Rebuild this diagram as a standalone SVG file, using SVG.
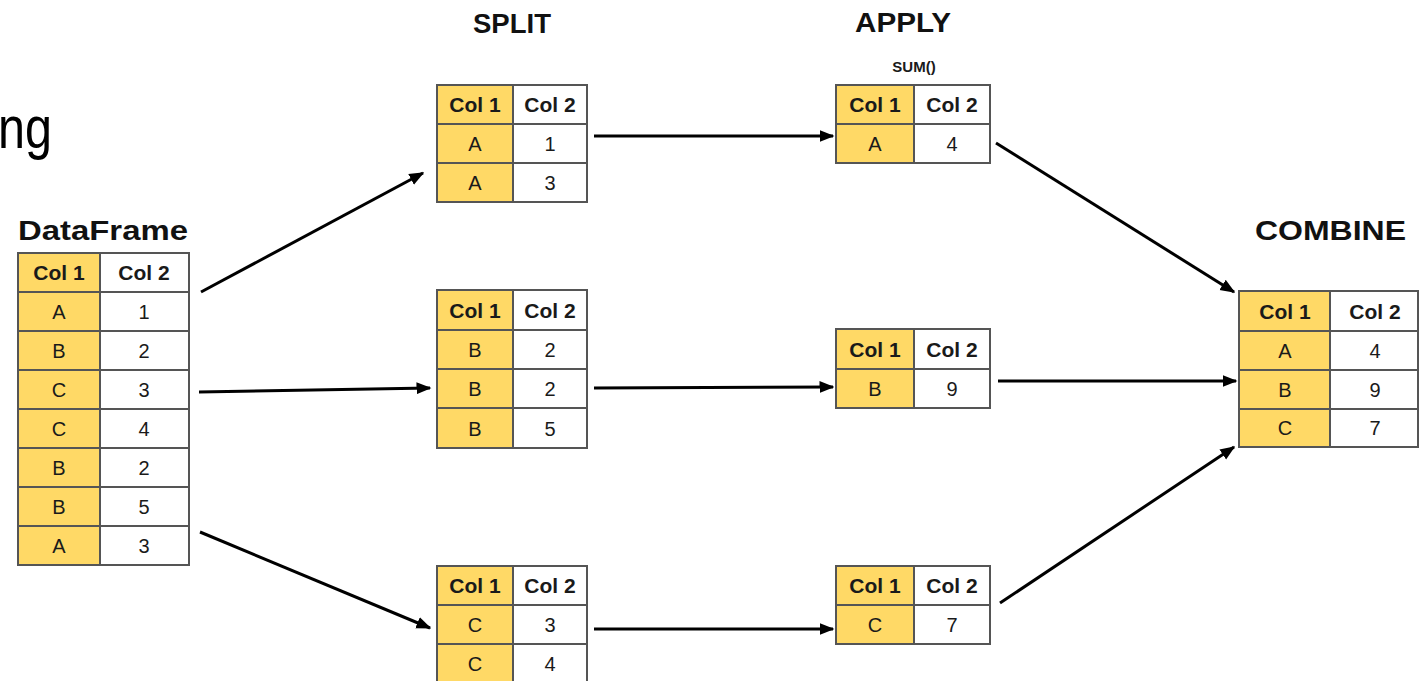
<svg xmlns="http://www.w3.org/2000/svg" width="1419" height="681" viewBox="0 0 1419 681">
  <style>
    .k { fill: #FFD966; stroke: #555; stroke-width: 2; }
    .v { fill: #FFFFFF; stroke: #555; stroke-width: 2; }
    .h { font-family: "Liberation Sans", Arial, sans-serif; font-weight: bold; font-size: 21px; fill: #1a1a1a; text-anchor: middle; }
    .d { font-family: "Liberation Sans", Arial, sans-serif; font-size: 20px; fill: #1a1a1a; text-anchor: middle; }
    .title { font-family: "Liberation Sans", Arial, sans-serif; font-weight: bold; font-size: 27px; fill: #111; }
    .arrow { stroke: #000; stroke-width: 3; fill: none; marker-end: url(#head); }
  </style>
  <defs>
    <marker id="head" viewBox="0 0 10 10" refX="9" refY="5" markerWidth="5" markerHeight="5" orient="auto" markerUnits="strokeWidth">
      <path d="M0,1 L10,5 L0,9 z" fill="#000"/>
    </marker>
  </defs>
  <rect width="1419" height="681" fill="#fff"/>

  <!-- partial heading on the left edge -->
  <text x="-2" y="148" font-family="Liberation Sans, Arial, sans-serif" font-size="60" fill="#000" textLength="54" lengthAdjust="spacingAndGlyphs">ng</text>

  <!-- stage titles -->
  <text class="title" x="18" y="240" textLength="170" lengthAdjust="spacingAndGlyphs">DataFrame</text>
  <text class="title" x="473" y="33" textLength="78" lengthAdjust="spacingAndGlyphs">SPLIT</text>
  <text class="title" x="855" y="32" textLength="96" lengthAdjust="spacingAndGlyphs">APPLY</text>
  <text x="914" y="72" font-family="Liberation Sans, Arial, sans-serif" font-weight="bold" font-size="15" fill="#1a1a1a" text-anchor="middle">SUM()</text>
  <text class="title" x="1255" y="240" textLength="151" lengthAdjust="spacingAndGlyphs">COMBINE</text>

  <!-- source DataFrame -->
  <g id="dataframe">
    <rect class="k" x="18" y="253" width="82" height="39"/><rect class="v" x="100" y="253" width="89" height="39"/>
    <rect class="k" x="18" y="292" width="82" height="39"/><rect class="v" x="100" y="292" width="89" height="39"/>
    <rect class="k" x="18" y="331" width="82" height="39"/><rect class="v" x="100" y="331" width="89" height="39"/>
    <rect class="k" x="18" y="370" width="82" height="39"/><rect class="v" x="100" y="370" width="89" height="39"/>
    <rect class="k" x="18" y="409" width="82" height="39"/><rect class="v" x="100" y="409" width="89" height="39"/>
    <rect class="k" x="18" y="448" width="82" height="39"/><rect class="v" x="100" y="448" width="89" height="39"/>
    <rect class="k" x="18" y="487" width="82" height="39"/><rect class="v" x="100" y="487" width="89" height="39"/>
    <rect class="k" x="18" y="526" width="82" height="39"/><rect class="v" x="100" y="526" width="89" height="39"/>
    <text class="h" x="59" y="280">Col 1</text><text class="h" x="144" y="280">Col 2</text>
    <text class="d" x="59" y="319">A</text><text class="d" x="144" y="319">1</text>
    <text class="d" x="59" y="358">B</text><text class="d" x="144" y="358">2</text>
    <text class="d" x="59" y="397">C</text><text class="d" x="144" y="397">3</text>
    <text class="d" x="59" y="436">C</text><text class="d" x="144" y="436">4</text>
    <text class="d" x="59" y="475">B</text><text class="d" x="144" y="475">2</text>
    <text class="d" x="59" y="514">B</text><text class="d" x="144" y="514">5</text>
    <text class="d" x="59" y="553">A</text><text class="d" x="144" y="553">3</text>
  </g>

  <!-- split groups -->
  <g id="split-a">
    <rect class="k" x="437" y="85" width="76" height="39"/><rect class="v" x="513" y="85" width="74" height="39"/>
    <rect class="k" x="437" y="124" width="76" height="39"/><rect class="v" x="513" y="124" width="74" height="39"/>
    <rect class="k" x="437" y="163" width="76" height="39"/><rect class="v" x="513" y="163" width="74" height="39"/>
    <text class="h" x="475" y="112">Col 1</text><text class="h" x="550" y="112">Col 2</text>
    <text class="d" x="475" y="151">A</text><text class="d" x="550" y="151">1</text>
    <text class="d" x="475" y="190">A</text><text class="d" x="550" y="190">3</text>
  </g>
  <g id="split-b">
    <rect class="k" x="437" y="290" width="76" height="40"/><rect class="v" x="513" y="290" width="74" height="40"/>
    <rect class="k" x="437" y="330" width="76" height="39"/><rect class="v" x="513" y="330" width="74" height="39"/>
    <rect class="k" x="437" y="369" width="76" height="39"/><rect class="v" x="513" y="369" width="74" height="39"/>
    <rect class="k" x="437" y="408" width="76" height="40"/><rect class="v" x="513" y="408" width="74" height="40"/>
    <text class="h" x="475" y="318">Col 1</text><text class="h" x="550" y="318">Col 2</text>
    <text class="d" x="475" y="357">B</text><text class="d" x="550" y="357">2</text>
    <text class="d" x="475" y="396">B</text><text class="d" x="550" y="396">2</text>
    <text class="d" x="475" y="436">B</text><text class="d" x="550" y="436">5</text>
  </g>
  <g id="split-c">
    <rect class="k" x="437" y="566" width="76" height="39"/><rect class="v" x="513" y="566" width="74" height="39"/>
    <rect class="k" x="437" y="605" width="76" height="39"/><rect class="v" x="513" y="605" width="74" height="39"/>
    <rect class="k" x="437" y="644" width="76" height="39"/><rect class="v" x="513" y="644" width="74" height="39"/>
    <text class="h" x="475" y="593">Col 1</text><text class="h" x="550" y="593">Col 2</text>
    <text class="d" x="475" y="632">C</text><text class="d" x="550" y="632">3</text>
    <text class="d" x="475" y="671">C</text><text class="d" x="550" y="671">4</text>
  </g>

  <!-- applied sums -->
  <g id="apply-a">
    <rect class="k" x="836" y="85" width="78" height="39"/><rect class="v" x="914" y="85" width="76" height="39"/>
    <rect class="k" x="836" y="124" width="78" height="39"/><rect class="v" x="914" y="124" width="76" height="39"/>
    <text class="h" x="875" y="112">Col 1</text><text class="h" x="952" y="112">Col 2</text>
    <text class="d" x="875" y="151">A</text><text class="d" x="952" y="151">4</text>
  </g>
  <g id="apply-b">
    <rect class="k" x="836" y="329" width="78" height="40"/><rect class="v" x="914" y="329" width="76" height="40"/>
    <rect class="k" x="836" y="369" width="78" height="39"/><rect class="v" x="914" y="369" width="76" height="39"/>
    <text class="h" x="875" y="357">Col 1</text><text class="h" x="952" y="357">Col 2</text>
    <text class="d" x="875" y="396">B</text><text class="d" x="952" y="396">9</text>
  </g>
  <g id="apply-c">
    <rect class="k" x="836" y="566" width="78" height="39"/><rect class="v" x="914" y="566" width="76" height="39"/>
    <rect class="k" x="836" y="605" width="78" height="39"/><rect class="v" x="914" y="605" width="76" height="39"/>
    <text class="h" x="875" y="593">Col 1</text><text class="h" x="952" y="593">Col 2</text>
    <text class="d" x="875" y="632">C</text><text class="d" x="952" y="632">7</text>
  </g>

  <!-- combined result -->
  <g id="combine">
    <rect class="k" x="1239" y="291" width="91" height="40"/><rect class="v" x="1330" y="291" width="88" height="40"/>
    <rect class="k" x="1239" y="331" width="91" height="39"/><rect class="v" x="1330" y="331" width="88" height="39"/>
    <rect class="k" x="1239" y="370" width="91" height="39"/><rect class="v" x="1330" y="370" width="88" height="39"/>
    <rect class="k" x="1239" y="409" width="91" height="38"/><rect class="v" x="1330" y="409" width="88" height="38"/>
    <text class="h" x="1285" y="319">Col 1</text><text class="h" x="1375" y="319">Col 2</text>
    <text class="d" x="1285" y="358">A</text><text class="d" x="1375" y="358">4</text>
    <text class="d" x="1285" y="397">B</text><text class="d" x="1375" y="397">9</text>
    <text class="d" x="1285" y="435">C</text><text class="d" x="1375" y="435">7</text>
  </g>

  <!-- flow arrows -->
  <g id="connectors">
    <line class="arrow" x1="201" y1="292" x2="423" y2="173"/>
    <line class="arrow" x1="199" y1="392" x2="430" y2="388"/>
    <line class="arrow" x1="200" y1="532" x2="430" y2="628"/>
    <line class="arrow" x1="594" y1="136" x2="833" y2="136"/>
    <line class="arrow" x1="594" y1="388" x2="833" y2="387"/>
    <line class="arrow" x1="594" y1="629" x2="833" y2="629"/>
    <line class="arrow" x1="996" y1="143" x2="1234" y2="292"/>
    <line class="arrow" x1="998" y1="381" x2="1236" y2="381"/>
    <line class="arrow" x1="1000" y1="603" x2="1234" y2="447"/>
  </g>
</svg>
